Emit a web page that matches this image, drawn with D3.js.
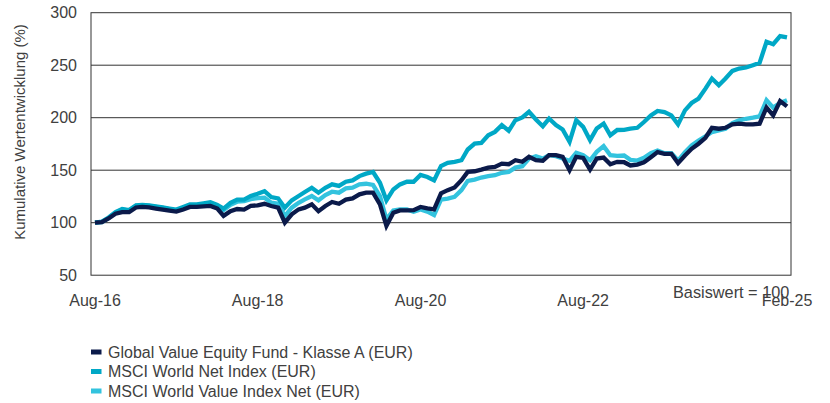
<!DOCTYPE html>
<html lang="de">
<head>
    <meta charset="UTF-8">
    <title>Kumulative Wertentwicklung</title>
    <script src="https://cdn.jsdelivr.net/npm/d3@7"></script>
    <style>
        body {
            margin: 0;
            padding: 0;
            background: #fff;
            font-family: 'Liberation Sans', Arial, sans-serif;
        }
        svg text {
            fill: #404040;
        }
    </style>
</head>
<body>
    <svg id="chart" width="830" height="403"></svg>

    <script>
        // monthly points, Aug-16 .. Feb-25
        const startMonth = new Date(2016, 7, 1);
        const endMonth = new Date(2025, 1, 1);

        const fund = [
            100, 100.5, 104, 108.5, 110, 110, 114.5, 115, 114.5, 113.5,
            112.5, 111.5, 110.5, 112.5, 115, 115, 115.5, 116, 113.5, 106.5,
            111, 113, 112.5, 116, 116.5, 118, 115.9, 114.3, 100, 108,
            112.7, 114.3, 117.5, 111, 115.9, 119.7, 118, 122, 123.2, 127,
            128.6, 128.6, 117.5, 97, 109.5, 111.7, 111.7, 112, 115, 113.7,
            112.7, 128, 131, 133.5, 140.5, 148.4, 149, 150.6, 152.5, 153.2,
            156.3, 155.7, 159.5, 158, 162.7, 159.5, 158.9, 164.3, 164.3, 162.7,
            150, 162.7, 161.7, 150.6, 161.1, 162, 155.7, 158, 157.6, 154.5,
            155.4, 157.6, 162.4, 167.2, 165.6, 165.6, 156.7, 164, 170.4, 175.2,
            180.9, 190.4, 189.5, 190.4, 193.6, 194.3, 193.6, 193.6, 194.3, 209.6,
            202.2, 215.9, 210.8
        ];

        const msciWorld = [
            100, 101, 105, 110, 113, 112, 116.5, 117, 116.5, 115.5,
            114.5, 113.5, 112.5, 115, 117.5, 117.5, 118.5, 119.5, 117, 113.5,
            119, 122, 122, 125.5, 127.5, 130, 124.4, 123.2, 114.3, 121.3,
            125.4, 129.2, 133.3, 128.6, 133.3, 136.5, 135, 139, 140.3, 144.4,
            146.7, 148.3, 138, 121.3, 131.7, 136.5, 139, 139, 145.4, 143.5,
            140.3, 154, 157, 158, 159.5, 169.7, 175.4, 176, 183.3, 186.5,
            192.9, 187.5, 197.6, 200.2, 205.6, 198.3, 191.9, 199.2, 192.9, 188.7,
            177, 197.6, 191.3, 178.6, 189.7, 194.4, 183.3, 188.3, 188.5, 189.5,
            190.4, 195.9, 202.2, 206.4, 205.4, 202.2, 193.6, 207, 214, 218.2,
            227.7, 237.3, 230.9, 237.3, 244.6, 246.8, 247.8, 250, 252.2, 272.3,
            270, 277.7, 276.4
        ];

        const msciValue = [
            100, 100.5, 104.5, 109.5, 112.5, 111.5, 116, 116.5, 116, 115,
            114, 113, 111.5, 114, 116.5, 116.5, 117.5, 118, 115.5, 112,
            117, 120, 120.5, 122.5, 123.5, 123.8, 119, 118, 106.3, 114.3,
            119, 122.2, 125.4, 121.3, 126.3, 129.5, 128.6, 132.7, 133.3, 136.5,
            137.1, 135.9, 125.4, 103.2, 111.7, 112.7, 112.7, 110.5, 112.7, 110.5,
            107.3, 122, 123, 124.6, 131, 139.8, 141.1, 143, 144.3, 145.2,
            147.5, 148.4, 152.5, 153.8, 161.1, 163.3, 161.1, 164.3, 163.3, 161.1,
            158.9, 166.5, 164.3, 159.5, 167.5, 172.9, 164.3, 163.6, 164, 159.9,
            159.2, 161.8, 166.2, 168.8, 166.2, 166.2, 159.2, 167.2, 173.6, 178.3,
            182.2, 186.3, 187.9, 189.5, 194.9, 197.5, 199, 200, 201.3, 216.6,
            209.6, 214, 216.6
        ];

        const seriesNames = [
            "Global Value Equity Fund - Klasse A (EUR)",
            "MSCI World Net Index (EUR)",
            "MSCI World Value Index Net (EUR)"
        ];
        const seriesColors = ["#0b1a4a", "#00a8c6", "#33c3de"];

        const yTicks = [50, 100, 150, 200, 250, 300];
        const xTickLabels = ["Aug-16", "Aug-18", "Aug-20", "Aug-22", "Feb-25"];
        const xTickDates = [
            new Date(2016, 7, 1), new Date(2018, 7, 1), new Date(2020, 7, 1),
            new Date(2022, 7, 1), new Date(2025, 1, 1)
        ];

        const months = d3.timeMonth.range(startMonth, d3.timeMonth.offset(endMonth, 1));

        const svg = d3.select("#chart");

        const frame = { left: 91, right: 791, top: 12.7, bottom: 275.2 };

        const x = d3.scaleTime()
            .domain([startMonth, endMonth])
            .range([95, 787]);

        const y = d3.scaleLinear()
            .domain([50, 300])
            .range([frame.bottom, frame.top]);

        // grid lines
        svg.append("g")
            .selectAll("line")
            .data(yTicks.filter(d => d > 50 && d < 300))
            .enter().append("line")
            .attr("x1", frame.left)
            .attr("x2", frame.right)
            .attr("y1", d => y(d))
            .attr("y2", d => y(d))
            .attr("stroke", "#333")
            .attr("stroke-width", 1);

        // frame
        svg.append("rect")
            .attr("x", frame.left)
            .attr("y", frame.top)
            .attr("width", frame.right - frame.left)
            .attr("height", frame.bottom - frame.top)
            .attr("fill", "none")
            .attr("stroke", "#333")
            .attr("stroke-width", 1);

        // y axis labels
        const yAxis = svg.append("g")
            .attr("transform", `translate(${frame.left},0)`)
            .call(d3.axisLeft(y).tickValues(yTicks).tickSize(0).tickPadding(14));
        yAxis.select(".domain").remove();
        yAxis.selectAll("text")
            .attr("fill", "#404040")
            .style("font-family", "'Liberation Sans', Arial, sans-serif")
            .style("font-size", "16px");

        // x axis labels
        svg.append("g")
            .selectAll("text")
            .data(xTickDates)
            .enter().append("text")
            .attr("x", d => x(d))
            .attr("y", 306)
            .attr("text-anchor", "middle")
            .style("font-size", "16px")
            .text((d, i) => xTickLabels[i]);

        svg.append("text")
            .attr("x", 673)
            .attr("y", 298)
            .style("font-size", "16.3px")
            .text("Basiswert = 100");

        svg.append("text")
            .attr("transform", "translate(25,132) rotate(-90)")
            .attr("text-anchor", "middle")
            .style("font-size", "15px")
            .text("Kumulative Wertentwicklung (%)");

        // lines
        const line = d3.line()
            .x((d, i) => x(months[i]))
            .y(d => y(d));

        const allSeries = [fund, msciWorld, msciValue];
        const drawOrder = [2, 1, 0];

        svg.append("g")
            .selectAll("path")
            .data(drawOrder)
            .enter().append("path")
            .attr("d", k => line(allSeries[k]))
            .attr("fill", "none")
            .attr("stroke", k => seriesColors[k])
            .attr("stroke-width", 4.3)
            .attr("stroke-linejoin", "miter");

        // legend
        const legend = svg.append("g")
            .selectAll("g")
            .data(seriesNames)
            .enter().append("g")
            .attr("transform", (d, i) => `translate(91,${352 + i * 19.5})`);

        legend.append("rect")
            .attr("x", 0)
            .attr("y", -2.5)
            .attr("width", 10.5)
            .attr("height", 5)
            .attr("fill", (d, i) => seriesColors[i]);

        legend.append("text")
            .attr("x", 17)
            .attr("y", 5.5)
            .style("font-size", "16px")
            .text(d => d);
    </script>
</body>
</html>
